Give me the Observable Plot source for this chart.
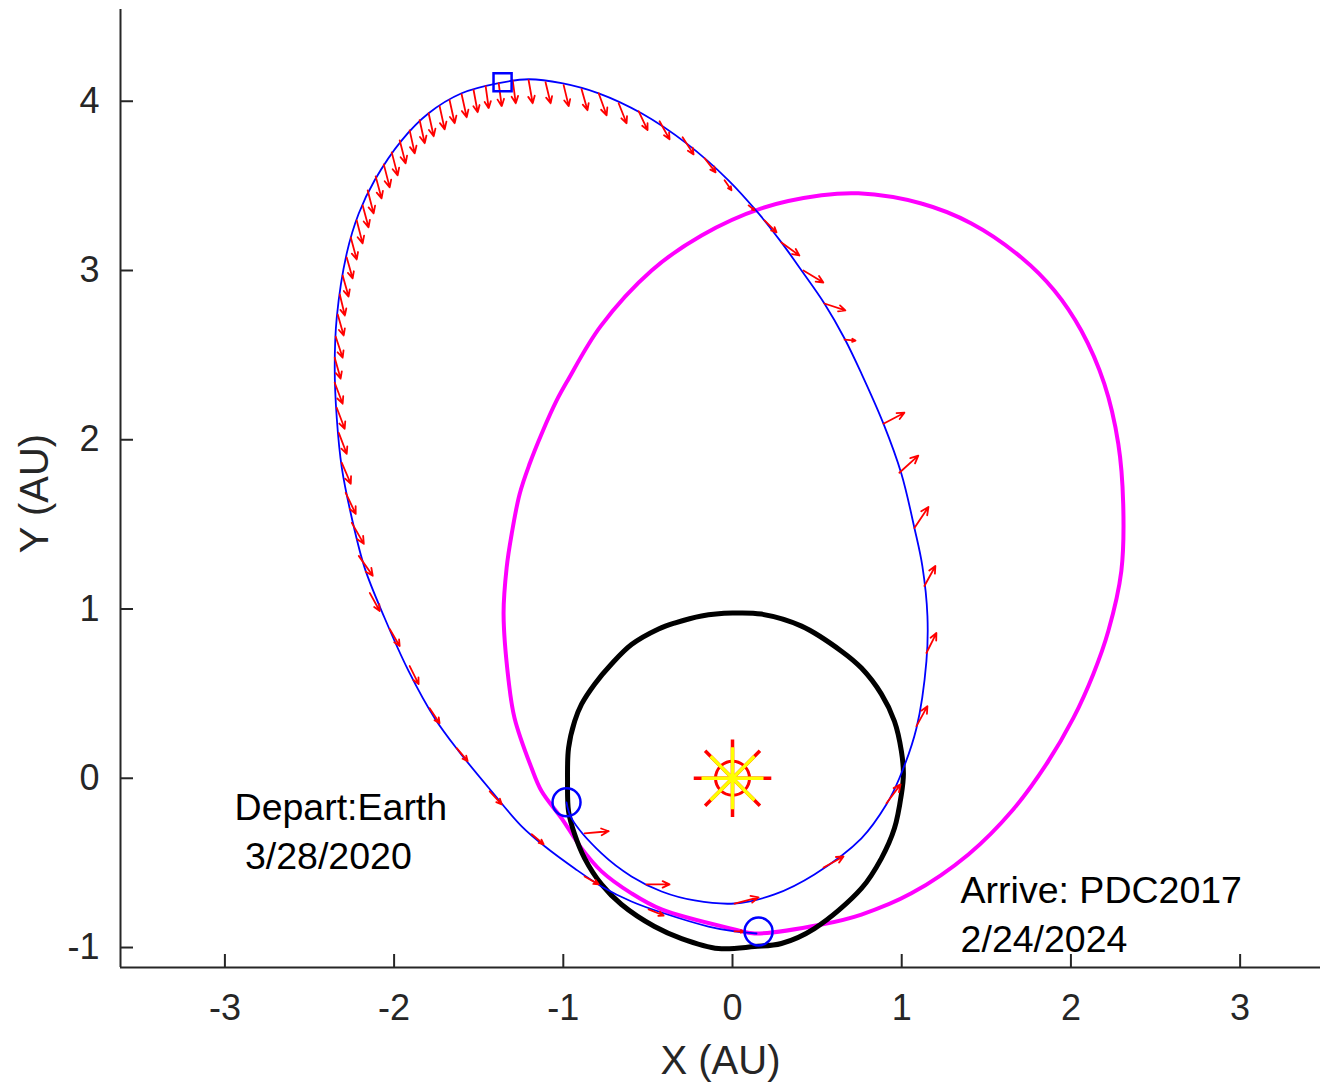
<!DOCTYPE html>
<html><head><meta charset="utf-8">
<script src="https://cdn.jsdelivr.net/npm/d3@7"></script>
<script src="https://cdn.jsdelivr.net/npm/@observablehq/plot@0.6"></script>
<style>body{margin:0;background:#fff}svg{display:block}</style>
</head><body><div id="chart"></div>
<script>
// ---- tick values ----
const xTicks = [-3, -2, -1, 0, 1, 2, 3];
const yTicks = [-1, 0, 1, 2, 3, 4];

// ---- spacecraft trajectory (AU) ----
const pathX = [-0.981,-0.951,-0.774,-0.597,-0.419,-0.224,0.012,0.248,0.484,0.762,0.910,0.986,1.087,1.146,1.152,1.122,1.075,0.998,0.892,0.762,0.662,0.543,0.408,0.289,0.154,-0.024,-0.272,-0.538,-0.791,-1.010,-1.205,-1.382,-1.601,-1.796,-1.955,-2.115,-2.209,-2.280,-2.339,-2.351,-2.339,-2.309,-2.250,-2.174,-2.056,-1.914,-1.760,-1.618,-1.424,-1.246,-1.110,-0.933,-0.774,-0.597,-0.402,-0.142,0.012,0.142];
const pathY = [-0.142,-0.237,-0.444,-0.580,-0.669,-0.722,-0.740,-0.686,-0.568,-0.355,-0.154,0.000,0.296,0.692,0.959,1.254,1.479,1.799,2.095,2.391,2.598,2.805,3.000,3.166,3.337,3.533,3.751,3.929,4.047,4.107,4.130,4.107,4.047,3.929,3.769,3.533,3.337,3.101,2.722,2.426,2.130,1.834,1.538,1.243,0.947,0.633,0.355,0.160,-0.077,-0.284,-0.402,-0.533,-0.639,-0.728,-0.799,-0.876,-0.905,-0.917];

// ---- asteroid PDC2017 orbit (AU), closed loop ----
const astX = [0.744,1.116,1.412,1.707,1.902,2.061,2.197,2.280,2.309,2.298,2.221,2.132,2.014,1.855,1.660,1.394,1.057,0.762,0.526,0.130,0.012,-0.419,-0.597,-0.774,-0.892,-1.010,-1.128,-1.187,-1.288,-1.323,-1.353,-1.335,-1.305,-1.258,-1.199,-1.128,-1.040,-0.975,-0.780,-0.478,-0.183,0.171,0.526];
const astY = [3.456,3.396,3.278,3.077,2.882,2.645,2.331,1.976,1.621,1.225,0.870,0.615,0.355,0.083,-0.183,-0.450,-0.680,-0.805,-0.864,-0.917,-0.893,-0.775,-0.680,-0.550,-0.414,-0.237,-0.077,0.059,0.355,0.574,0.970,1.243,1.444,1.680,1.858,2.036,2.231,2.349,2.670,3.000,3.207,3.367,3.444];

// ---- Earth orbit (AU), closed loop ----
const earthX = [0,0.171,0.408,0.644,0.762,0.880,0.957,0.998,1.010,0.998,0.957,0.880,0.762,0.484,0.289,0.130,-0.083,-0.301,-0.461,-0.656,-0.774,-0.874,-0.933,-0.969,-0.975,-0.969,-0.933,-0.892,-0.815,-0.715,-0.597,-0.437,-0.343,-0.183];
const earthY = [0.976,0.970,0.899,0.751,0.651,0.497,0.337,0.160,0.024,-0.095,-0.296,-0.473,-0.651,-0.888,-0.976,-0.994,-1.006,-0.947,-0.876,-0.746,-0.627,-0.473,-0.331,-0.195,-0.018,0.178,0.337,0.438,0.556,0.675,0.790,0.882,0.917,0.959];

// ---- thrust arrows: tail (x,y) and components (u,v), AU ----
const arrowX = [-0.874,-0.508,0.012,0.538,0.910,1.087,1.146,1.134,1.075,0.986,0.892,0.662,0.543,0.419,0.289,0.189,0.095,-0.047,-0.165,-0.295,-0.431,-0.555,-0.673,-0.791,-0.892,-0.998,-1.105,-1.205,-1.299,-1.382,-1.459,-1.530,-1.601,-1.672,-1.731,-1.796,-1.849,-1.908,-1.967,-2.014,-2.061,-2.109,-2.156,-2.186,-2.221,-2.256,-2.280,-2.304,-2.321,-2.333,-2.345,-2.351,-2.351,-2.339,-2.327,-2.309,-2.286,-2.250,-2.209,-2.144,-2.026,-1.908,-1.790,-1.630,-1.435,-1.187,-0.874,-0.496,0.012];
const arrowY = [-0.325,-0.627,-0.740,-0.527,-0.148,0.308,0.740,1.136,1.479,1.805,2.095,2.592,2.805,3.000,3.166,3.296,3.385,3.533,3.663,3.787,3.882,3.941,3.988,4.047,4.071,4.095,4.112,4.124,4.124,4.107,4.089,4.065,4.041,4.006,3.970,3.929,3.888,3.828,3.769,3.698,3.627,3.556,3.473,3.385,3.296,3.195,3.077,2.970,2.858,2.740,2.609,2.485,2.337,2.189,2.041,1.864,1.686,1.509,1.314,1.095,0.882,0.663,0.414,0.178,-0.077,-0.331,-0.580,-0.775,-0.905];
const arrowU = [0.142,0.136,0.142,0.118,0.083,0.065,0.059,0.065,0.083,0.112,0.124,0.065,0.124,0.118,0.106,0.071,0.035,0.041,0.065,0.065,0.059,0.053,0.047,0.047,0.035,0.030,0.030,0.024,0.018,0.018,0.018,0.024,0.030,0.030,0.030,0.030,0.030,0.030,0.035,0.035,0.035,0.035,0.035,0.035,0.035,0.035,0.035,0.035,0.030,0.035,0.041,0.035,0.047,0.047,0.047,0.053,0.059,0.071,0.083,0.059,0.059,0.053,0.059,0.065,0.071,0.071,0.083,0.089,0.053];
const arrowV = [0.012,0.000,0.036,0.065,0.112,0.118,0.118,0.118,0.124,0.101,0.065,-0.006,-0.041,-0.071,-0.077,-0.071,-0.030,-0.059,-0.083,-0.101,-0.107,-0.112,-0.118,-0.130,-0.124,-0.124,-0.124,-0.136,-0.136,-0.136,-0.130,-0.130,-0.136,-0.136,-0.136,-0.136,-0.136,-0.136,-0.136,-0.136,-0.136,-0.130,-0.136,-0.130,-0.136,-0.130,-0.124,-0.124,-0.124,-0.124,-0.124,-0.124,-0.124,-0.124,-0.124,-0.124,-0.124,-0.124,-0.118,-0.107,-0.101,-0.107,-0.089,-0.077,-0.077,-0.059,-0.047,-0.036,0.000];

// ---- markers ----
const circleX = [-0.981, 0.154];   // departure, arrival
const circleY = [-0.142, -0.905];
const squareX = [-1.359];
const squareY = [4.112];
const sunX = [0];
const sunY = [0];

// ---- annotations ----
const noteText = ["Depart:Earth\n\u00a03/28/2020", "Arrive: PDC2017\n2/24/2024"];
const noteX = [-2.943, 1.348];
const noteY = [-0.301, -0.789];

const path = pathX.map((x, i) => ({x, y: pathY[i]}));
const ast = astX.map((x, i) => ({x, y: astY[i]}));
const earth = earthX.map((x, i) => ({x, y: earthY[i]}));
const arrows = arrowX.map((x, i) => ({x, y: arrowY[i], u: arrowU[i], v: arrowV[i]}));
const circles = circleX.map((x, i) => ({x, y: circleY[i]}));
const squares = squareX.map((x, i) => ({x, y: squareY[i]}));
const sun = sunX.map((x, i) => ({x, y: sunY[i]}));
const notes = noteText.map((t, i) => ({t, x: noteX[i], y: noteY[i]}));

const chart = Plot.plot({
  width: 1320, height: 1082,
  marginLeft: 120, marginRight: 0, marginTop: 9, marginBottom: 115,
  x: {domain: [-3.617, 3.475]},
  y: {domain: [-1.118, 4.542]},
  style: {fontFamily: "'Liberation Sans', Arial, Helvetica, sans-serif", background: "white", color: "#262626"},
  marks: [
    Plot.line(ast, {x: "x", y: "y", stroke: "#ff00ff", strokeWidth: 4, curve: "catmull-rom-closed"}),
    Plot.line(earth, {x: "x", y: "y", stroke: "black", strokeWidth: 5, strokeLinejoin: "round", curve: "catmull-rom-closed"}),
    Plot.line(path, {x: "x", y: "y", stroke: "#0000ff", strokeWidth: 1.8, curve: "catmull-rom"}),
    Plot.arrow(arrows, {x1: "x", y1: "y", x2: d => d.x + d.u, y2: d => d.y + d.v, stroke: "#ff0000", strokeWidth: 1.8, headLength: 7, headAngle: 50}),
    Plot.dot(circles, {x: "x", y: "y", r: 14, stroke: "#0000ff", strokeWidth: 2.5}),
    Plot.dot(squares, {x: "x", y: "y", symbol: "square", r: 10.2, stroke: "#0000ff", strokeWidth: 2.5}),
    Plot.dot(sun, {x: "x", y: "y", r: 17, stroke: "#ff0000", strokeWidth: 3}),
    Plot.dot(sun, {x: "x", y: "y", symbol: "plus", r: 25, stroke: "#ff0000", strokeWidth: 3.5}),
    Plot.dot(sun, {x: "x", y: "y", symbol: "times", r: 25, stroke: "#ff0000", strokeWidth: 3.5}),
    Plot.dot(sun, {x: "x", y: "y", symbol: "plus", r: 20, stroke: "#ffff00", strokeWidth: 3.5}),
    Plot.dot(sun, {x: "x", y: "y", symbol: "times", r: 20, stroke: "#ffff00", strokeWidth: 3.5}),
    Plot.text(notes, {x: "x", y: "y", text: "t", textAnchor: "start", lineAnchor: "middle", lineHeight: 1.3, fontSize: 37.5, fill: "black"}),
    Plot.ruleX([-3.617], {stroke: "#262626", strokeWidth: 2}),
    Plot.ruleY([-1.118], {stroke: "#262626", strokeWidth: 2}),
    Plot.axisX(xTicks, {anchor: "bottom", tickSize: -13, tickPadding: 40, strokeWidth: 2, fontSize: 36, tickFormat: d => String(d), label: null}),
    Plot.axisY(yTicks, {anchor: "left", tickSize: -13, tickPadding: 34, strokeWidth: 2, fontSize: 36, tickFormat: d => String(d), label: null}),
    Plot.text(["X (AU)"], {text: d => d, frameAnchor: "bottom", textAnchor: "middle", lineAnchor: "middle", dy: 94, fontSize: 40, fill: "#262626"}),
    Plot.text(["Y (AU)"], {text: d => d, frameAnchor: "left", textAnchor: "middle", lineAnchor: "middle", dx: -85, dy: 5, rotate: -90, fontSize: 40, fill: "#262626"})
  ]
});
document.getElementById("chart").append(chart);
</script>
</body></html>
